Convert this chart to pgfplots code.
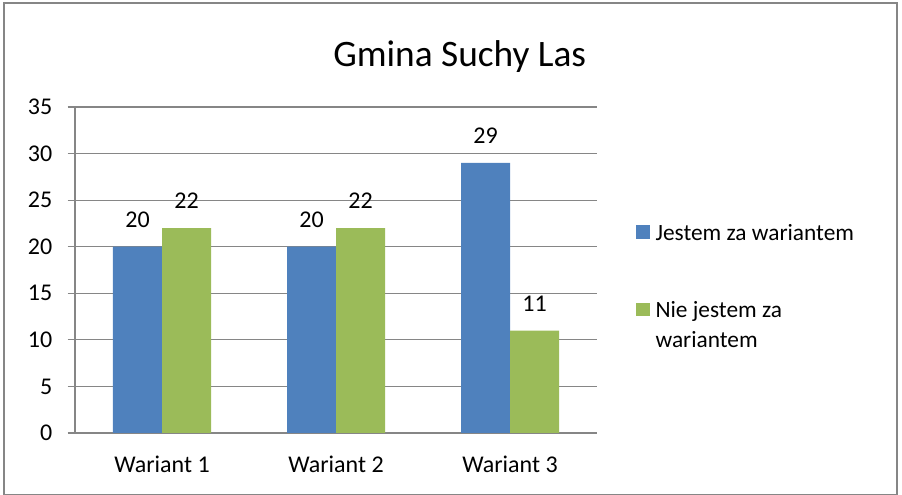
\documentclass[border=0pt]{standalone}
\usepackage{fontspec}
\setmainfont{Carlito}
\usepackage{pgfplots}
\pgfplotsset{compat=1.18}

\definecolor{serA}{HTML}{4F81BD}
\definecolor{serB}{HTML}{9BBB59}
\definecolor{axgray}{HTML}{868686}

\begin{document}
\begin{tikzpicture}[x=0.75pt,y=0.75pt]
% page = 902 x 495 px, axis corner at px (75,433)
\path[use as bounding box] (-75,-62) rectangle (827,433);
\draw[axgray, line width=0.9pt] (-71,-61.5) rectangle (822,430);
\begin{axis}[
    at={(0,0)}, anchor=south west,
    scale only axis,
    width=391.5pt, height=244.5pt,
    ybar=0pt, bar width=36.75pt,
    xmin=-0.5, xmax=2.5,
    ymin=0, ymax=35,
    ytick={0,5,...,35},
    xtick={0,1,2},
    xticklabels={Wariant 1,Wariant 2,Wariant 3},
    extra x ticks={-0.5,0.5,1.5,2.5},
    extra x tick labels={},
    extra x tick style={major tick length=5.5pt,
        tick style={axgray, line width=0.9pt}},
    major x tick style={draw=none},
    axis lines*=left,
    axis line style={axgray, line width=0.9pt, -},
    y tick style={axgray, line width=0.9pt},
    tick align=outside,
    major tick length=5.5pt,
    ymajorgrids,
    grid style={axgray, line width=0.9pt},
    every tick label/.append style={font=\fontsize{18}{20}\selectfont},
    /pgf/number format/assume math mode=true,
    yticklabel style={xshift=-8pt},
    xticklabel style={yshift=-8pt},
    nodes near coords,
    every node near coord/.append style={font=\fontsize{18}{20}\selectfont, black, yshift=11pt},
    legend style={draw=none, at={(1.067,0.656)}, anchor=north west,
        font=\fontsize{17.5}{22}\selectfont, row sep=37pt,
        cells={anchor=base west}},
    legend image code/.code={\fill[#1] (0pt,1.5pt) rectangle (10pt,11.5pt);},
    title={Gmina Suchy Las},
    title style={font=\fontsize{28}{32}\selectfont, at={(0.737,1)}, yshift=16pt},
]
\addplot[fill=serA, draw=none] coordinates {(0,20) (1,20) (2,29)};
\addplot[fill=serB, draw=none] coordinates {(0,22) (1,22) (2,11)};
\legend{\hspace{2.5pt}Jestem za wariantem, {\hspace{2.5pt}\begin{tabular}[t]{@{}l@{}}Nie jestem za\\wariantem\end{tabular}}}
\end{axis}
\end{tikzpicture}
\end{document}
